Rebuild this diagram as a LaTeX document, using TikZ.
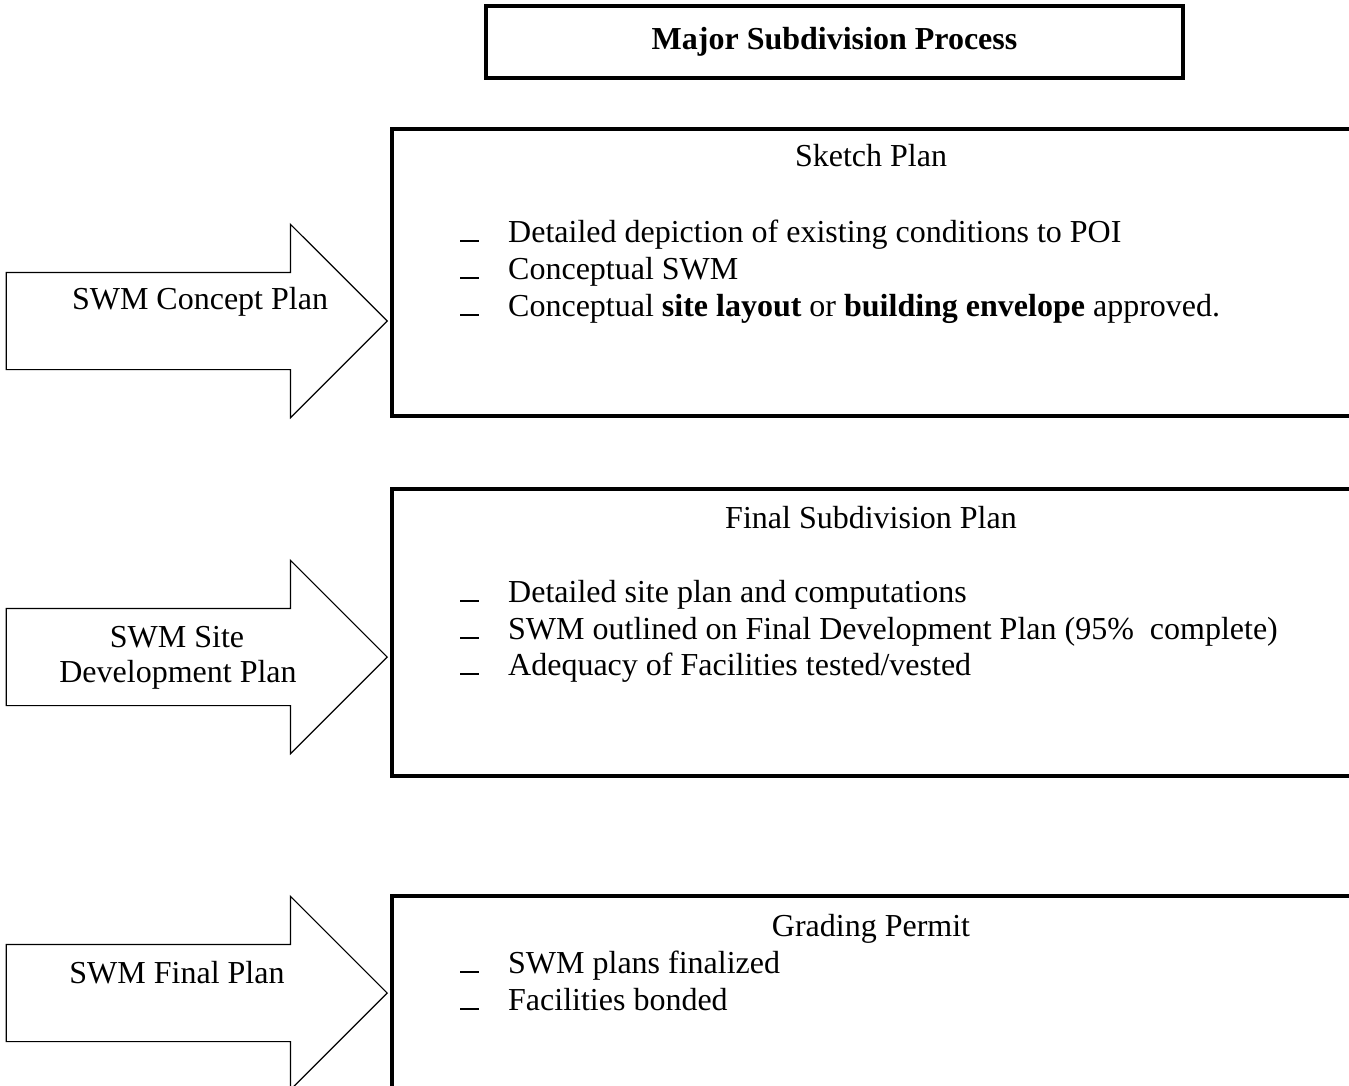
\documentclass[tikz,border=0pt]{standalone}
\usepackage{fontspec}
\setmainfont{Liberation Serif}
\usetikzlibrary{shapes.arrows,positioning}

\newcommand{\itemdash}{\makebox[48pt][l]{\rule[0pt]{19pt}{2pt}}}

\begin{document}
\begin{tikzpicture}[x=1pt, y=-1pt, font=\fontsize{32}{37}\selectfont,
  stage/.style={draw, line width=4pt, minimum width=964pt, minimum height=287pt, inner sep=0pt, anchor=north west},
  feed/.style={draw, line width=1.2pt, single arrow, single arrow head extend=48pt, single arrow tip angle=90,
    minimum height=381pt, inner xsep=0pt, inner ysep=48pt, anchor=tip},
  lbl/.style={anchor=base, inner sep=0pt},
  itm/.style={anchor=base west, inner sep=0pt}]
  \useasboundingbox (0,0) rectangle (1349,1086);
  \clip (0,0) rectangle (1349,1086);

  % title
  \node[draw, line width=3.5pt, minimum width=697pt, minimum height=72pt, inner sep=0pt] (title) at (834.5,42) {\textbf{Major Subdivision Process}};

  % sketch plan
  \node[stage] (sketch) at (390,127) {};
  \node[feed] (concept) at (388,321) {};
  \node[lbl] (conceptlbl) at (200,309) {SWM Concept Plan};
  \node[lbl] (sketchhd) at (871,167) {Sketch Plan};
  \node[itm] (s1) at (460,242) {\itemdash Detailed depiction of existing conditions to POI};
  \node[itm] (s2) at (460,279) {\itemdash Conceptual SWM};
  \node[itm] (s3) at (460,316) {\itemdash Conceptual \textbf{site layout} or \textbf{building envelope} approved.};

  % final subdivision plan
  \node[stage] (final) at (390,487) {};
  \node[feed] (site) at (388,657) {};
  \node[lbl] (sitelbl) at (177,647) {SWM Site};
  \node[lbl] (sitelblb) at (178,682) {Development Plan};
  \node[lbl] (finalhd) at (871,528) {Final Subdivision Plan};
  \node[itm] (f1) at (460,602) {\itemdash Detailed site plan and computations};
  \node[itm] (f2) at (460,639) {\itemdash SWM outlined on Final Development Plan (95\%\ \ complete)};
  \node[itm] (f3) at (460,675) {\itemdash Adequacy of Facilities tested/vested};

  % grading permit
  \node[stage] (grading) at (390,894) {};
  \node[feed] (finalswm) at (388,993) {};
  \node[lbl] (finalswmlbl) at (177,983) {SWM Final Plan};
  \node[lbl] (gradinghd) at (871,936) {Grading Permit};
  \node[itm] (g1) at (460,973) {\itemdash SWM plans finalized};
  \node[itm] (g2) at (460,1010) {\itemdash Facilities bonded};
\end{tikzpicture}
\end{document}
